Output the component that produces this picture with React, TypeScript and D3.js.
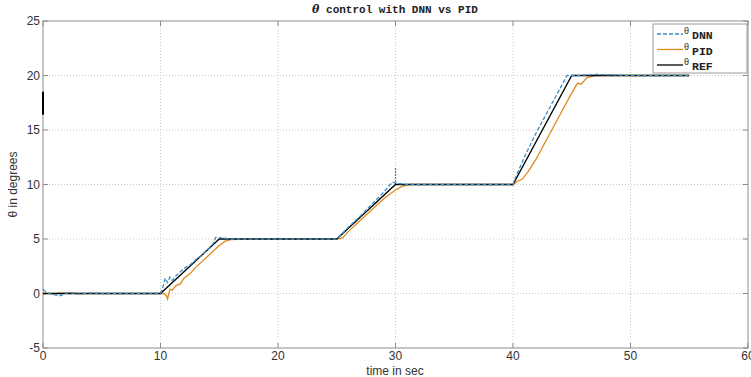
import React from "react";
import * as d3 from "d3";

const xTicks = [0, 10, 20, 30, 40, 50, 60];
const yTicks = [-5, 0, 5, 10, 15, 20, 25];

const refT = [0, 10, 15, 25, 30, 40, 45, 55];
const refV = [0, 0, 5, 5, 10, 10, 20, 20];

const dnnT = [0, 0.3, 0.8, 1.5, 2.2, 3, 4, 5, 7, 10, 10.2, 10.4, 10.6, 10.8, 11.0, 11.3, 11.7, 12, 12.5, 13, 13.5, 14, 14.5, 14.7, 15.2, 16, 20, 25, 25.3, 26, 27, 28, 29, 29.7, 30.2, 31, 35, 40, 40.2, 41, 42, 43, 44, 44.6, 45.5, 47, 50, 55];
const dnnV = [0.4, 0.1, -0.1, -0.2, 0.1, -0.05, 0.05, 0, 0, 0, 0.6, 1.4, 1.0, 1.5, 1.2, 1.6, 2.0, 2.3, 2.6, 3.1, 3.5, 4.0, 4.6, 5.15, 5.1, 5.0, 5.0, 5.0, 5.3, 6.1, 7.1, 8.2, 9.3, 10.2, 10.1, 10.0, 10.0, 10.0, 10.6, 12.6, 14.8, 16.8, 18.8, 20.0, 20.0, 20.1, 20.0, 20.0];

const pidT = [0, 1, 2, 3, 5, 10, 10.3, 10.5, 10.6, 10.8, 11.0, 11.3, 11.7, 12, 12.5, 13, 13.5, 14, 14.5, 15, 15.5, 16, 17, 20, 25, 25.5, 26, 27, 28, 29, 30, 30.5, 31.2, 33, 40, 40.4, 40.8, 41.3, 42, 43, 44, 45, 45.5, 45.8, 46.3, 47, 50, 55];
const pidV = [0, 0, 0.05, 0, 0, 0, 0.0, -0.2, -0.5, 0.4, 0.3, 0.7, 0.9, 1.4, 1.8, 2.4, 2.9, 3.4, 3.9, 4.4, 4.8, 4.95, 5.0, 5.0, 5.0, 5.1, 5.7, 6.7, 7.7, 8.7, 9.5, 9.8, 10.0, 10.0, 10.0, 10.3, 10.5, 11.2, 12.4, 14.4, 16.4, 18.4, 19.3, 19.2, 19.8, 20.0, 20.0, 20.0];

const artifactV = [16.4, 18.5];
const spikeV = [10, 11.6];

const legendItems = [
  { label: "DNN", color: "#3a8ec4", dash: "4,2" },
  { label: "PID", color: "#e08a1e", dash: "" },
  { label: "REF", color: "#000000", dash: "" },
];

export default function App() {
  const W = 751, H = 377;
  const L = 43, R = 748, T = 21, B = 348;
  const x = d3.scaleLinear().domain([0, 60]).range([L, R]);
  const y = d3.scaleLinear().domain([-5, 25]).range([B, T]);
  const line = (ts: number[], vs: number[]) =>
    d3.line<number>().x((_, i) => x(ts[i])).y((v) => y(v))(vs) || "";
  const mono = "'Liberation Mono', 'DejaVu Sans Mono', monospace";
  const sans = "'Liberation Sans', Arial, sans-serif";
  const grid = "#c8c8c8";
  const axis = "#8c8c8c";
  return (
    <svg width={W} height={H} style={{ position: "absolute", left: 0, top: 0, background: "#fff" }}>
      <rect x={0} y={0} width={W} height={H} fill="#fff" />
      {xTicks.slice(1, -1).map((t) => (
        <line key={"gx" + t} x1={x(t)} x2={x(t)} y1={T} y2={B} stroke={grid} strokeDasharray="1,2" strokeWidth={1} />
      ))}
      {yTicks.slice(1, -1).map((t) => (
        <line key={"gy" + t} x1={L} x2={R} y1={y(t)} y2={y(t)} stroke={grid} strokeDasharray="1,2" strokeWidth={1} />
      ))}
      <rect x={L} y={T} width={R - L} height={B - T} fill="none" stroke={axis} strokeWidth={1} />
      {xTicks.map((t) => (
        <g key={"tx" + t}>
          <line x1={x(t)} x2={x(t)} y1={B} y2={B - 5} stroke={axis} />
          <line x1={x(t)} x2={x(t)} y1={T} y2={T + 5} stroke={axis} />
          <text x={x(t)} y={B + 12} fontSize={12} fontFamily={sans} fill="#333" textAnchor="middle">{t}</text>
        </g>
      ))}
      {yTicks.map((t) => (
        <g key={"ty" + t}>
          <line x1={L} x2={L + 5} y1={y(t)} y2={y(t)} stroke={axis} />
          <line x1={R} x2={R - 5} y1={y(t)} y2={y(t)} stroke={axis} />
          <text x={L - 3} y={y(t) + 4} fontSize={12} fontFamily={sans} fill="#333" textAnchor="end">{t}</text>
        </g>
      ))}
      <path d={line(pidT, pidV)} fill="none" stroke="#e08a1e" strokeWidth={1.3} />
      <path d={line(refT, refV)} fill="none" stroke="#000" strokeWidth={1.3} />
      <path d={line(dnnT, dnnV)} fill="none" stroke="#3a8ec4" strokeWidth={1.3} strokeDasharray="4,2" />
      <line x1={x(0)} x2={x(0)} y1={y(artifactV[0])} y2={y(artifactV[1])} stroke="#000" strokeWidth={2} />
      <line x1={x(30)} x2={x(30)} y1={y(spikeV[0])} y2={y(spikeV[1])} stroke="#000" strokeWidth={1.3} strokeDasharray="1,2" />
      <text x={395} y={13} fontSize={11} fontFamily={mono} fontWeight="bold" fill="#222" textAnchor="middle">
        <tspan fontStyle="italic" fontFamily="'DejaVu Serif', serif">θ</tspan> control with DNN vs PID
      </text>
      <text x={395} y={375} fontSize={12} fontFamily={sans} fill="#333" textAnchor="middle">time in sec</text>
      <text transform={`translate(17,${(T + B) / 2}) rotate(-90)`} fontSize={12} fontFamily={sans} fill="#333" textAnchor="middle">θ in degrees</text>
      <rect x={653} y={24} width={R - 653 - 1} height={49} fill="#fff" stroke="#9a9a9a" strokeWidth={1} />
      {legendItems.map((it, i) => {
        const ly = 34 + i * 15.5;
        return (
          <g key={it.label}>
            <line x1={657} x2={683} y1={ly} y2={ly} stroke={it.color} strokeWidth={1.3} strokeDasharray={it.dash || undefined} />
            <text x={684} y={ly} fontSize={9} fontFamily={sans} fill="#222">θ</text>
            <text x={692} y={ly + 5} fontSize={11.5} fontFamily={mono} fontWeight="bold" fill="#222">{it.label}</text>
          </g>
        );
      })}
    </svg>
  );
}
